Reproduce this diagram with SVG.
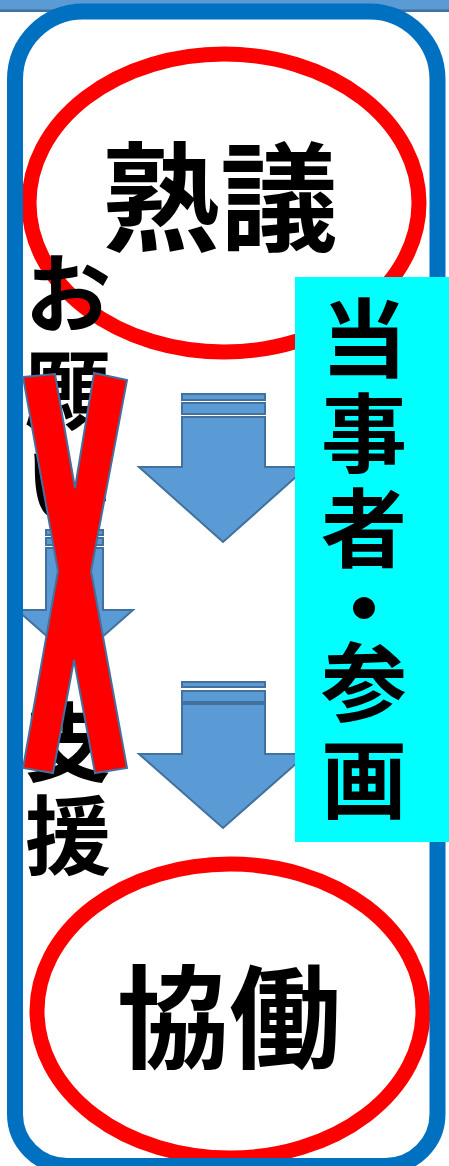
<svg xmlns="http://www.w3.org/2000/svg" width="449" height="1166" viewBox="0 0 449 1166">
<style>
.jp{font-family:"Noto Sans CJK JP","Noto Sans CJK SC",sans-serif;font-weight:bold;fill:#000;text-anchor:middle}
.ring{fill:none;stroke:#FF0000;stroke-width:15}
.arrow{fill:#5B9BD5;stroke:#41719C;stroke-width:2;stroke-linejoin:miter}
</style>
<rect width="449" height="1166" fill="#FFFFFF"/>
<g id="top-bar">
<rect x="0" y="0" width="449" height="10" fill="#5B9BD5"/>
<rect x="0" y="9.5" width="449" height="2.5" fill="#41719C"/>
</g>
<g id="node-jukugi">
<ellipse class="ring" cx="224" cy="203" rx="195" ry="149"/>
<text class="jp" x="220" y="242" font-size="118">熟議</text>
</g>
<g id="node-kyodo">
<ellipse class="ring" cx="230" cy="1011" rx="193" ry="147"/>
<text class="jp" x="229" y="1060" font-size="112">協働</text>
</g>
<g id="node-left-text">
<text class="jp" x="68" y="326" font-size="86">お</text>
<text class="jp" x="68" y="423" font-size="86">願</text>
<text class="jp" x="68" y="516" font-size="86">い</text>
<text class="jp" x="68" y="775" font-size="86">支</text>
<text class="jp" x="68" y="868" font-size="86">援</text>
</g>
<g id="connectors">
<g id="arrow-small">
<rect class="arrow" x="46" y="530" width="57" height="5"/>
<rect class="arrow" x="46" y="538" width="57" height="7"/>
<polygon class="arrow" points="46,548 103,548 103,610 133,610 75,661 17,610 46,610"/>
</g>
<g id="arrow-1">
<rect class="arrow" x="182" y="394" width="83" height="6"/>
<rect class="arrow" x="182" y="403" width="83" height="11"/>
<polygon class="arrow" points="182,417 265,417 265,467 307,467 223,542 139,467 182,467"/>
</g>
<g id="arrow-2">
<rect class="arrow" x="182" y="682" width="83" height="5"/>
<rect class="arrow" x="182" y="691" width="83" height="11"/>
<polygon class="arrow" points="182,704 265,704 265,754 307,754 223,828 139,754 182,754"/>
</g>
</g>
<g id="frame">
<path d="M83,11.5 H369.5 A68,68 0 0 1 437.5,79.5 V1114 A52,52 0 0 1 385.5,1166 H67 A52,52 0 0 1 15,1114 V79.5 A68,68 0 0 1 83,11.5 Z" fill="none" stroke="#0070C0" stroke-width="16"/>
</g>
<g id="node-tojisha">
<rect x="295" y="277" width="154" height="565" fill="#00FFFF"/>
<text class="jp" x="364" y="371" font-size="86">当</text>
<text class="jp" x="364" y="466" font-size="86">事</text>
<text class="jp" x="364" y="561" font-size="86">者</text>
<text class="jp" x="364" y="641" font-size="86">・</text>
<text class="jp" x="364" y="715" font-size="86">参</text>
<text class="jp" x="364" y="812" font-size="86">画</text>
</g>
<g id="cross">
<polygon points="23,377 55,374 75,488 94,373 127,380 91,571 127,768 95,773 74,660 53,773 23,768 58,571" fill="#FF0000" stroke="#41719C" stroke-width="2" stroke-linejoin="miter"/>
</g>
</svg>
